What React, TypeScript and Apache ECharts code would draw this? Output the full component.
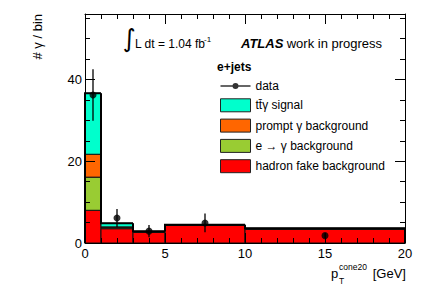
import React, { useEffect, useRef } from "react";
import * as echarts from "echarts";

// ---- data ----
const binEdges = [0, 1, 3, 5, 10, 20];
const hadronFake = [8.0, 3.5, 2.6, 4.3, 3.3];
const eToGamma = [8.1, 0.25, 0.1, 0.05, 0.1];
const promptGamma = [5.6, 0.2, 0.05, 0.05, 0.1];
const ttgSignal = [14.9, 0.85, 0.1, 0.05, 0.1];

const dataX = [0.5, 2, 4, 7.5, 15];
const dataY = [36.2, 6.1, 2.9, 4.9, 1.8];
const dataErr = [6.3, 2.2, 1.5, 2.3, 0.6];

const yLabelValues = [0, 20, 40];
const yMinorValues = [5, 10, 15, 25, 30, 35, 45, 50, 55];

const NAME_DATA = "data";
const NAME_SIG = "t\u0074\u0304\u03b3 signal";
const NAME_PROMPT = "prompt \u03b3 background";
const NAME_EG = "e \u2192 \u03b3 background";
const NAME_HAD = "hadron fake background";

const COL_SIG = "#00ffcc";
const COL_PROMPT = "#ff6600";
const COL_EG = "#99cc33";
const COL_HAD = "#ff0000";

const FONT = "'Liberation Sans', Arial, Helvetica, sans-serif";

const components = [
  { name: NAME_HAD, values: hadronFake, color: COL_HAD },
  { name: NAME_EG, values: eToGamma, color: COL_EG },
  { name: NAME_PROMPT, values: promptGamma, color: COL_PROMPT },
  { name: NAME_SIG, values: ttgSignal, color: COL_SIG },
];

export default function App() {
  const ref = useRef<HTMLDivElement>(null);

  useEffect(() => {
    if (!ref.current) return;
    const chart = echarts.init(ref.current, undefined, { renderer: "svg" });

    const nBins = binEdges.length - 1;
    const cum = new Array(nBins).fill(0);
    const stackSeries: any[] = components.map((c) => {
      const items = c.values.map((v, i) => {
        const base = cum[i];
        cum[i] = base + v;
        return [binEdges[i], binEdges[i + 1], base, base + v];
      });
      return {
        type: "custom",
        name: c.name,
        itemStyle: { color: c.color },
        encode: { x: [0, 1], y: [2, 3] },
        data: items,
        z: 1,
        renderItem: (params: any, api: any) => {
          const p0 = api.coord([api.value(0), api.value(3)]);
          const p1 = api.coord([api.value(1), api.value(2)]);
          return {
            type: "rect",
            shape: { x: p0[0], y: p0[1], width: p1[0] - p0[0], height: p1[1] - p0[1] },
            style: { fill: c.color, stroke: "#111", lineWidth: 1 },
          };
        },
      };
    });

    const outlineData = cum.map((t, i) => [
      binEdges[i],
      binEdges[i + 1],
      i === 0 ? 0 : cum[i - 1],
      t,
      i === nBins - 1 ? 1 : 0,
    ]);

    const outlineSeries = {
      type: "custom",
      name: "outline",
      encode: { x: [0, 1], y: [2, 3] },
      data: outlineData,
      z: 2,
      silent: true,
      renderItem: (params: any, api: any) => {
        const x0 = api.value(0), x1 = api.value(1), prev = api.value(2), cur = api.value(3), last = api.value(4);
        const pts = [api.coord([x0, prev]), api.coord([x0, cur]), api.coord([x1, cur])];
        if (last) pts.push(api.coord([x1, 0]));
        return {
          type: "polyline",
          shape: { points: pts },
          style: { stroke: "#000", lineWidth: 2, fill: "none" },
        };
      },
    };

    const errSeries = {
      type: "custom",
      name: "errors",
      encode: { x: 0, y: 1 },
      data: dataX.map((x, i) => [x, dataY[i], dataErr[i]]),
      z: 20,
      silent: true,
      renderItem: (params: any, api: any) => {
        const x = api.value(0), y = api.value(1), e = api.value(2);
        const a = api.coord([x, y + e]);
        const b = api.coord([x, y - e]);
        return {
          type: "line",
          shape: { x1: a[0], y1: a[1], x2: b[0], y2: b[1] },
          style: { stroke: "#000", lineWidth: 1.3 },
        };
      },
    };

    const dataSeries = {
      type: "scatter",
      name: NAME_DATA,
      data: dataX.map((x, i) => [x, dataY[i]]),
      symbol: "circle",
      symbolSize: 7,
      itemStyle: { color: "#000" },
      z: 21,
    };

    const tickStyle = { color: "#000", width: 1 };

    const xBase = {
      type: "value",
      min: 0,
      max: 20,
      interval: 5,
      z: 10,
      axisLine: { show: true, onZero: false, lineStyle: { color: "#000", width: 1 } },
      splitLine: { show: false },
      axisTick: { show: true, inside: true, length: 10, lineStyle: tickStyle },
      minorTick: { show: true, splitNumber: 5, length: 5, lineStyle: tickStyle },
    };

    const yBase = {
      type: "value",
      min: 0,
      max: 56,
      z: 10,
      splitLine: { show: false },
    };

    const option: any = {
      animation: false,
      backgroundColor: "#fff",
      grid: {
        left: 85,
        right: 22,
        top: 14,
        bottom: 47,
        show: false,
        containLabel: false,
        outerBoundsMode: "none",
      },
      xAxis: [
        {
          ...xBase,
          position: "bottom",
          axisLabel: { show: true, margin: 4, fontSize: 13, color: "#000", fontFamily: FONT },
        },
        {
          ...xBase,
          position: "top",
          axisLabel: { show: false },
        },
      ],
      yAxis: [
        {
          ...yBase,
          position: "left",
          axisLine: { show: true, onZero: false, lineStyle: { color: "#000", width: 1 } },
          axisLabel: { show: true, customValues: yLabelValues, margin: 3, fontSize: 13, color: "#000", fontFamily: FONT },
          axisTick: { show: true, inside: true, length: 10, customValues: yLabelValues, lineStyle: tickStyle },
        },
        {
          ...yBase,
          position: "left",
          axisLine: { show: false, onZero: false },
          axisLabel: { show: false },
          axisTick: { show: true, inside: true, length: 5, customValues: yMinorValues, lineStyle: tickStyle },
        },
        {
          ...yBase,
          position: "right",
          axisLine: { show: true, onZero: false, lineStyle: { color: "#000", width: 1 } },
          axisLabel: { show: false },
          axisTick: { show: true, inside: true, length: 10, customValues: yLabelValues, lineStyle: tickStyle },
        },
        {
          ...yBase,
          position: "right",
          axisLine: { show: false, onZero: false },
          axisLabel: { show: false },
          axisTick: { show: true, inside: true, length: 5, customValues: yMinorValues, lineStyle: tickStyle },
        },
      ],
      legend: {
        orient: "vertical",
        left: 220,
        top: 80,
        padding: 0,
        itemWidth: 30,
        itemHeight: 13,
        itemGap: 6.3,
        selectedMode: false,
        textStyle: { fontSize: 12, color: "#000", fontFamily: FONT },
        data: [
          {
            name: NAME_DATA,
            icon: "path://M0,2.3 L30,2.3 L30,3.7 L0,3.7 Z M18,3 A3,3 0 1 1 12,3 A3,3 0 1 1 18,3 Z",
            itemStyle: { color: "#000", borderWidth: 0 },
          },
          { name: NAME_SIG, icon: "rect", itemStyle: { color: COL_SIG, borderColor: "#222", borderWidth: 1 } },
          { name: NAME_PROMPT, icon: "rect", itemStyle: { color: COL_PROMPT, borderColor: "#222", borderWidth: 1 } },
          { name: NAME_EG, icon: "rect", itemStyle: { color: COL_EG, borderColor: "#222", borderWidth: 1 } },
          { name: NAME_HAD, icon: "rect", itemStyle: { color: COL_HAD, borderColor: "#222", borderWidth: 1 } },
        ],
      },
      graphic: [
        {
          type: "text",
          x: 37,
          y: 14,
          rotation: Math.PI / 2,
          style: { text: "# \u03b3 / bin", fontSize: 13, fontFamily: FONT, fill: "#000", align: "right", verticalAlign: "middle" },
        },
        {
          type: "text",
          x: 129,
          y: 38,
          style: { text: "\u222b", fontSize: 25, fontFamily: "'DejaVu Sans', sans-serif", fill: "#000", align: "center", verticalAlign: "middle" },
        },
        {
          type: "text",
          x: 135,
          y: 44,
          style: { text: "L dt = 1.04 fb", fontSize: 12, fontFamily: FONT, fill: "#000", align: "left", verticalAlign: "middle" },
        },
        {
          type: "text",
          x: 204,
          y: 39,
          style: { text: "-1", fontSize: 8, fontFamily: FONT, fill: "#000", align: "left", verticalAlign: "middle" },
        },
        {
          type: "text",
          x: 241,
          y: 43,
          style: {
            text: "{a|ATLAS} {b|work in progress}",
            fontFamily: FONT,
            fill: "#000",
            align: "left",
            verticalAlign: "middle",
            rich: {
              a: { fontSize: 13, fontWeight: "bold", fontStyle: "italic", fontFamily: FONT, fill: "#000" },
              b: { fontSize: 13, fontFamily: FONT, fill: "#000" },
            },
          },
        },
        {
          type: "text",
          x: 217,
          y: 67,
          style: { text: "e+jets", fontSize: 12, fontWeight: "bold", fontFamily: FONT, fill: "#000", align: "left", verticalAlign: "middle" },
        },
        {
          type: "text",
          x: 331,
          y: 273,
          style: { text: "p", fontSize: 13, fontFamily: FONT, fill: "#000", align: "left", verticalAlign: "middle" },
        },
        {
          type: "text",
          x: 339,
          y: 267,
          style: { text: "cone20", fontSize: 8.5, fontFamily: FONT, fill: "#000", align: "left", verticalAlign: "middle" },
        },
        {
          type: "text",
          x: 339,
          y: 281,
          style: { text: "T", fontSize: 8.5, fontFamily: FONT, fill: "#000", align: "left", verticalAlign: "middle" },
        },
        {
          type: "text",
          x: 406,
          y: 273,
          style: { text: "[GeV]", fontSize: 13, fontFamily: FONT, fill: "#000", align: "right", verticalAlign: "middle" },
        },
      ],
      series: [...stackSeries, outlineSeries, errSeries, dataSeries],
    };

    chart.setOption(option);
    return () => chart.dispose();
  }, []);

  return <div ref={ref} style={{ position: "fixed", left: 0, top: 0, width: 427, height: 290 }} />;
}
